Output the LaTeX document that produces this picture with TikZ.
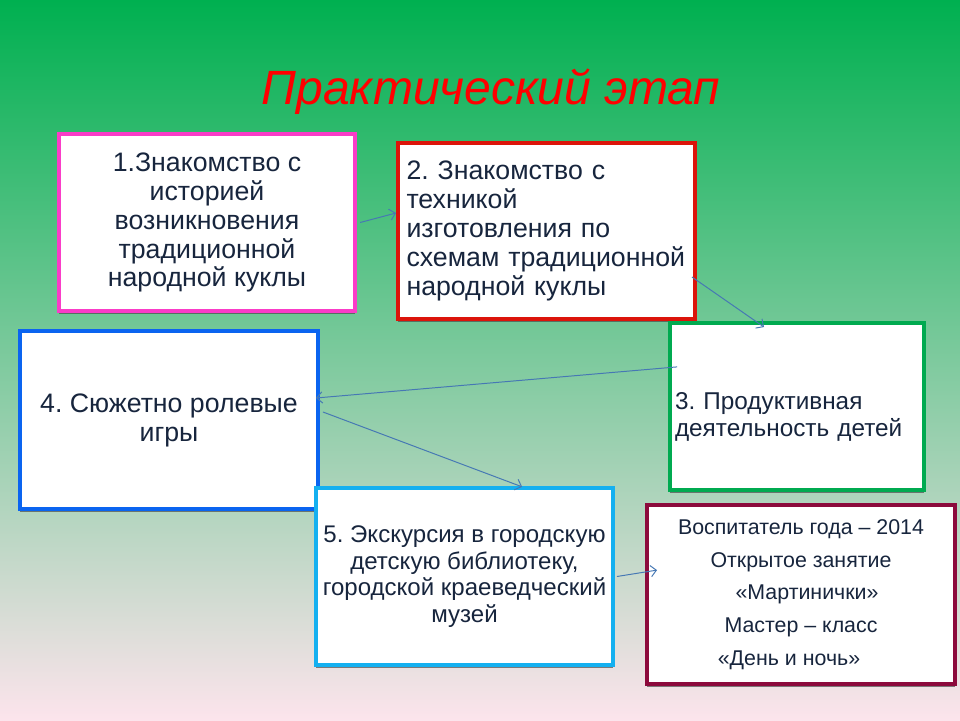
\documentclass[tikz,border=0pt]{standalone}
\usepackage{fontspec}
\setmainfont{Liberation Sans}
\usepackage{tikz}
\usetikzlibrary{positioning}
\usetikzlibrary{arrows.meta}
\usetikzlibrary{shadows}
\frenchspacing
\definecolor{encre}{RGB}{23,37,61}
\definecolor{rose}{RGB}{250,60,200}
\definecolor{rouge}{RGB}{220,20,10}
\definecolor{vert}{RGB}{0,170,80}
\definecolor{bleu}{RGB}{10,100,240}
\definecolor{cyan2}{RGB}{20,176,240}
\definecolor{bordeaux}{RGB}{140,10,60}
\definecolor{fleche}{RGB}{70,120,180}
\tikzset{etape/.style={shape=rectangle,draw,fill=white,line width=2.8pt,text=encre,
  drop shadow={shadow xshift=0pt,shadow yshift=-2.2pt,fill=gray!60!black,opacity=0.7}}}
\tikzset{lien/.style={-{Straight Barb[length=4pt,width=8pt]}, draw=fleche, line width=0.7pt}}

\begin{document}
\begin{tikzpicture}
\useasboundingbox (0,0) rectangle (24,18);
\shade[top color={rgb,255:red,0;green,176;blue,80}, middle color={rgb,255:red,126;green,200;blue,155}, bottom color={rgb,255:red,252;green,228;blue,236}] (0,0) rectangle (24,18);

\node(T) at (12.275,15.375) [anchor=base,text=red,font=\fontsize{34.2}{40}\selectfont\itshape] {Практический этап};

\node(B1) at (5.175,12.4375) [etape,draw=rose,minimum width=7.4cm,minimum height=4.425cm,align=center,font=\fontsize{19}{20.6}\selectfont] {1.Знакомство с\\историей\\возникновения\\традиционной\\народной куклы};
\node(B2) at (13.6625,12.225) [etape,draw=rouge,minimum width=7.425cm,minimum height=4.4cm,text width=7.0cm,align=left,font=\fontsize{19}{20.6}\selectfont] {2. Знакомство с\\техникой\\изготовления по\\схемам традиционной\\народной куклы};
\node(B3) at (19.925,7.8375) [etape,draw=vert,minimum width=6.35cm,minimum height=4.175cm] {};
\node(B3t) at ([yshift=-0.27cm]B3.center) [text width=6.1cm,align=left,text=encre,font=\fontsize{17.3}{19.2}\selectfont] {3. Продуктивная\\деятельность детей};
\node(B4) at (4.225,7.5) [etape,draw=bleu,minimum width=7.45cm,minimum height=4.45cm,align=center,font=\fontsize{19}{20.6}\selectfont] {4. Сюжетно ролевые\\игры};
\node(B5) at (11.6125,3.5875) [etape,draw=cyan2,minimum width=7.425cm,minimum height=4.425cm,align=center,font=\fontsize{17.1}{18.9}\selectfont] {5. Экскурсия в городскую\\детскую библиотеку,\\городской краеведческий\\музей};
\node(B6) at (20.025,3.1375) [etape,draw=bordeaux,minimum width=7.7cm,minimum height=4.475cm,align=center,font=\fontsize{15.2}{23.2}\selectfont] {Воспитатель года – 2014\\Открытое занятие\\\hspace*{0.3cm}«Мартинички»\\Мастер – класс\\«День и ночь»\hspace*{0.6cm}};

\draw[lien] ([xshift=0.08cm]B1.east)--([yshift=0.45cm]B2.west);
\draw[lien] ([xshift=-0.125cm,yshift=-1.15cm]B2.east)--([xshift=-0.825cm,yshift=-0.15cm]B3.north);
\draw[lien] ([xshift=0.225cm,yshift=0.99cm]B3.west)--([xshift=-0.1cm,yshift=0.55cm]B4.east);
\draw[lien] ([xshift=0.075cm,yshift=0.2cm]B4.east)--([xshift=1.44cm,yshift=-0.02cm]B5.north);
\draw[lien] ([xshift=0.05cm]B5.east)--([xshift=0.3cm,yshift=0.61cm]B6.west);
\end{tikzpicture}
\end{document}
